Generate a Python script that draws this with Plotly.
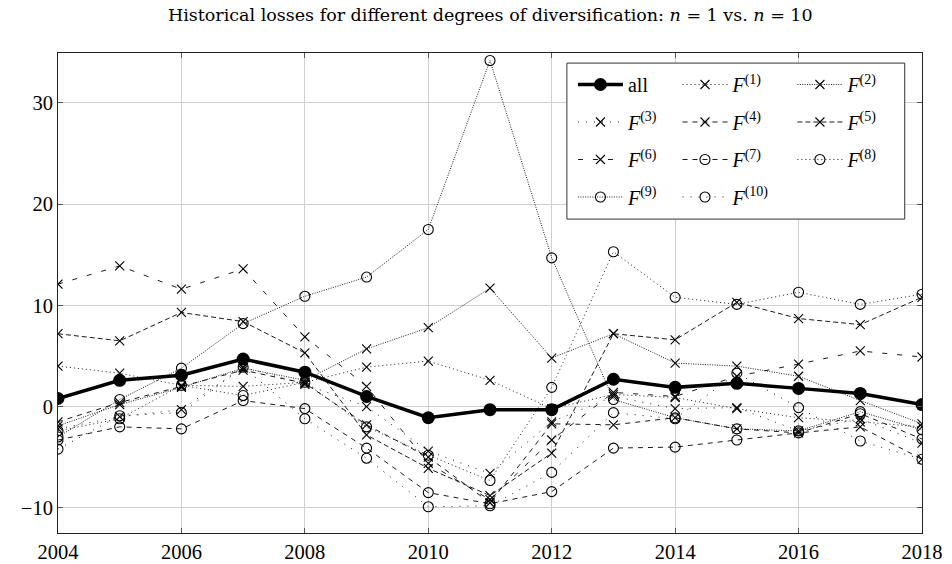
import plotly.graph_objects as go

# Years on the horizontal axis
years = list(range(2004, 2019))

# Annual losses, full portfolio ("all") and the ten single-factor portfolios
loss_all = [0.8, 2.6, 3.1, 4.7, 3.4, 1.0, -1.1, -0.3, -0.3, 2.7, 1.9, 2.3, 1.8, 1.3, 0.2]
loss_f1 = [4.0, 3.3, 2.1, 2.0, 2.4, 3.9, 4.5, 2.6, -0.2, 1.2, 0.9, -0.2, -1.1, -1.5, -2.0]
loss_f2 = [-1.9, 0.2, 1.9, 3.8, 2.6, 5.7, 7.8, 11.7, 4.8, 7.2, 4.3, 4.0, 3.0, 0.6, -1.7]
loss_f3 = [-2.2, -1.0, -0.3, 3.9, 2.2, 0.0, -4.4, -6.6, -1.5, 1.0, -0.2, -0.1, -2.4, -1.2, -3.6]
loss_f4 = [-1.5, 0.4, 2.0, 3.6, 2.3, -1.8, -5.0, -9.5, -1.7, -1.8, -1.1, -2.2, -2.6, -2.0, -5.2]
loss_f5 = [7.2, 6.5, 9.3, 8.4, 5.3, -2.8, -6.1, -8.8, -4.6, 7.2, 6.6, 10.3, 8.7, 8.1, 10.8]
loss_f6 = [12.1, 13.9, 11.6, 13.6, 6.9, 2.0, -5.6, -9.2, -3.3, 1.4, 1.0, 3.0, 4.2, 5.5, 4.9]
loss_f7 = [-3.3, -2.0, -2.2, 0.6, -0.2, -4.1, -8.5, -9.6, -8.4, -4.1, -4.0, -3.3, -2.6, -0.7, -3.2]
loss_f8 = [-2.4, -1.2, 2.1, 1.1, 2.4, -2.0, -4.8, -7.3, 1.9, 15.3, 10.8, 10.1, 11.3, 10.1, 11.1]
loss_f9 = [-3.0, 0.7, 3.8, 8.2, 10.9, 12.8, 17.5, 34.2, 14.7, 0.7, -1.1, -2.2, -2.4, -0.5, -2.3]
loss_f10 = [-4.2, -0.9, -0.6, 3.9, -1.2, -5.1, -9.9, -9.8, -6.5, -0.6, -1.2, 3.3, -0.1, -3.4, -5.2]

x_ticks = [2004, 2006, 2008, 2010, 2012, 2014, 2016, 2018]
y_ticks = [-10, 0, 10, 20, 30]

FONT = "Liberation Serif"
TITLE_FONT = "DejaVu Serif"
BLACK = "#000000"

# Dash patterns (on/off lengths in px)
DOTTED = "1px,3px"
DENSE_DOTTED = "1px,1.4px"
LOOSE_DOTTED = "1px,7px"
DASHED = "5px,5px"
DENSE_DASHED = "5px,3px"
LOOSE_DASHED = "5px,10px"

series = [
    ("<i>F</i><sup>(1)</sup>", loss_f1, DOTTED, "x-thin-open", "legend2"),
    ("<i>F</i><sup>(2)</sup>", loss_f2, DENSE_DOTTED, "x-thin-open", "legend3"),
    ("<i>F</i><sup>(3)</sup>", loss_f3, LOOSE_DOTTED, "x-thin-open", "legend"),
    ("<i>F</i><sup>(4)</sup>", loss_f4, DASHED, "x-thin-open", "legend2"),
    ("<i>F</i><sup>(5)</sup>", loss_f5, DENSE_DASHED, "x-thin-open", "legend3"),
    ("<i>F</i><sup>(6)</sup>", loss_f6, LOOSE_DASHED, "x-thin-open", "legend"),
    ("<i>F</i><sup>(7)</sup>", loss_f7, DASHED, "circle-open", "legend2"),
    ("<i>F</i><sup>(8)</sup>", loss_f8, DOTTED, "circle-open", "legend3"),
    ("<i>F</i><sup>(9)</sup>", loss_f9, DENSE_DOTTED, "circle-open", "legend"),
    ("<i>F</i><sup>(10)</sup>", loss_f10, LOOSE_DOTTED, "circle-open", "legend2"),
]

fig = go.Figure()

fig.add_trace(go.Scatter(
    x=years, y=loss_all, name="all", mode="lines+markers",
    line=dict(color=BLACK, width=3.5),
    marker=dict(symbol="circle", size=13, color=BLACK),
    legend="legend", legendgroup="all",
))

for name, values, dash, symbol, leg in series:
    size = 9 if symbol.startswith("x") else 10
    fig.add_trace(go.Scatter(
        x=years, y=values, name=name, mode="lines+markers",
        line=dict(color=BLACK, width=0.9, dash=dash),
        marker=dict(symbol=symbol, size=size, color=BLACK,
                    line=dict(color=BLACK, width=1.1)),
        legend=leg, legendgroup=name,
    ))

legend_common = dict(
    bgcolor="rgba(0,0,0,0)", borderwidth=0,
    font=dict(family=FONT, size=20, color=BLACK),
    itemwidth=45, tracegroupgap=8.5, traceorder="grouped",
    yanchor="top", xanchor="left", y=0.975,
)

fig.update_layout(
    width=952, height=564,
    margin=dict(l=58, r=30, t=53, b=31),
    paper_bgcolor="white", plot_bgcolor="white",
    font=dict(family=FONT, size=20, color=BLACK),
    title=dict(
        text="Historical losses for different degrees of diversification: "
             "<i>n</i> = 1 vs. <i>n</i> = 10",
        x=0.515, xanchor="center", y=0.973, yanchor="middle",
        font=dict(family=TITLE_FONT, size=17.5, color=BLACK),
    ),
    showlegend=True,
    legend=dict(x=0.596, **legend_common),
    legend2=dict(x=0.717, **legend_common),
    legend3=dict(x=0.850, **legend_common),
    shapes=[dict(
        type="rect", xref="paper", yref="paper",
        x0=0.589, x1=0.980, y0=0.654, y1=0.979,
        fillcolor="white", line=dict(color="#333333", width=1),
        layer="above",
    )],
)

fig.update_xaxes(
    range=[2004, 2018], tickvals=x_ticks, ticktext=[str(v) for v in x_ticks],
    showgrid=True, gridcolor="#d0d0d0", gridwidth=1, automargin=False,
    showline=True, linecolor="#222222", linewidth=1, mirror="ticks",
    ticks="inside", ticklen=5, tickcolor="#555555",
    zeroline=False, tickfont=dict(family=FONT, size=20.5, color=BLACK),
)
fig.update_yaxes(
    range=[-12.49, 34.94], tickvals=y_ticks,
    showgrid=True, gridcolor="#d0d0d0", gridwidth=1, automargin=False,
    showline=True, linecolor="#222222", linewidth=1, mirror="ticks",
    ticks="inside", ticklen=5, tickcolor="#555555",
    zeroline=False, tickfont=dict(family=FONT, size=20.5, color=BLACK),
)

fig.write_html("out.html")
